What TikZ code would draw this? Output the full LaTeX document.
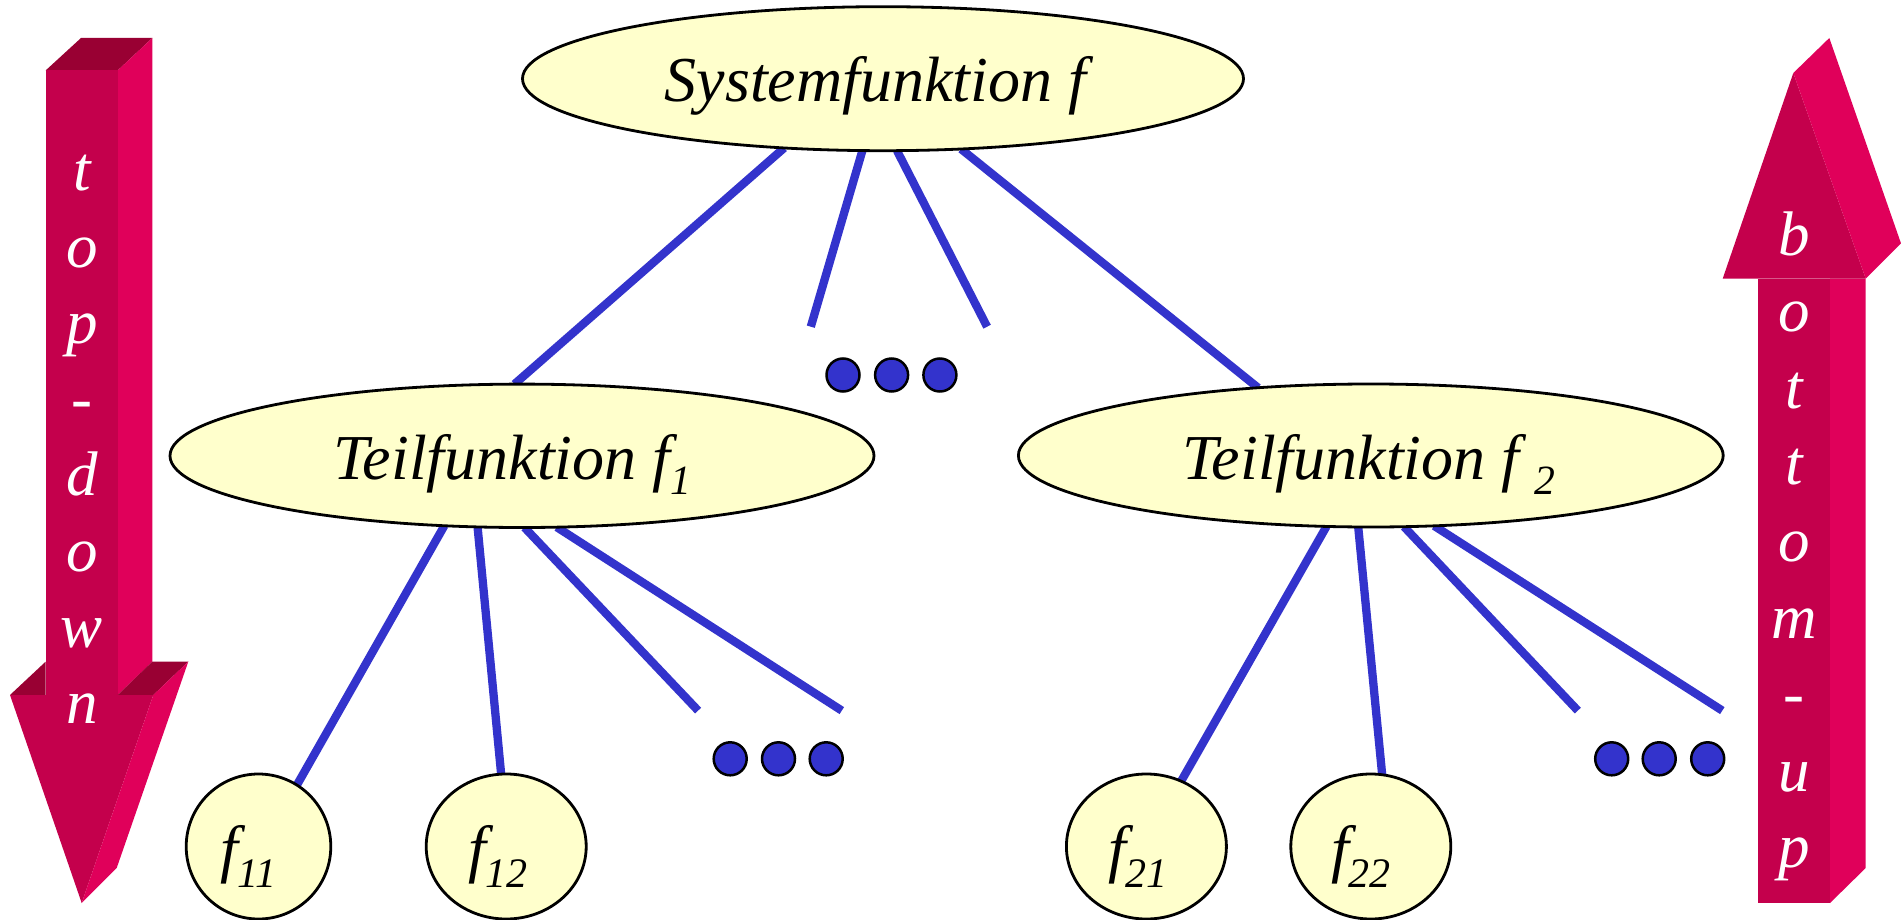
\documentclass[tikz,border=0pt]{standalone}
\usepackage{fontspec}
\setmainfont{Liberation Serif}
\usetikzlibrary{shapes.geometric}
\definecolor{lineblue}{RGB}{51,51,204}
\definecolor{bubfill}{RGB}{255,255,204}
\definecolor{arrfront}{RGB}{196,0,76}
\definecolor{arrside}{RGB}{224,0,90}
\definecolor{arrtop}{RGB}{153,0,51}
\pgfdeclarelayer{back}
\pgfdeclarelayer{bg}
\pgfsetlayers{back,bg,main}
\newcommand{\subA}[1]{\raisebox{-15pt}{\fontsize{41.6}{42}\selectfont #1}}
\newcommand{\subB}[1]{\raisebox{-17pt}{\fontsize{42}{42}\selectfont #1}}
\begin{document}
\begin{tikzpicture}[x=1pt,y=-1pt,line join=miter,
  bub/.style={ellipse, draw=black, line width=2.8pt, fill=bubfill, inner sep=0pt, outer sep=0pt},
  conn/.style={draw=lineblue, line width=8.3pt},
  dotn/.style={circle, draw=black, line width=2.5pt, fill=lineblue, minimum size=33pt, inner sep=0pt},
  lbl/.style={inner sep=0pt, anchor=base west, font=\fontsize{64}{76}\selectfont\itshape},
  arrtxt/.style={inner sep=0pt, text=white, anchor=base, font=\fontsize{63}{76}\selectfont\itshape}]
\useasboundingbox (0,0) rectangle (1901,920);
\begin{pgfonlayer}{back}
\fill[white] (0,0) rectangle (1901,920);
\end{pgfonlayer}

% ---- left 3D arrow (top-down)
\fill[arrtop] (45.7,70.4) -- (81,38) -- (152.3,38) -- (117.7,70.4) -- cycle;
\fill[arrside] (117.7,70.4) -- (152.3,38) -- (152.3,661.6) -- (117.7,695) -- cycle;
\fill[arrfront] (45.7,70.4) -- (117.7,70.4) -- (117.7,695) -- (45.7,695) -- cycle;
\fill[arrtop] (10,695) -- (45.7,661.6) -- (45.7,695) -- cycle;
\fill[arrtop] (117.7,695) -- (152.3,661.6) -- (188.3,661.6) -- (153.3,695) -- cycle;
\fill[arrfront] (10,695) -- (153.3,695) -- (81.7,903) -- cycle;
\fill[arrside] (153.3,695) -- (188.3,661.6) -- (116.7,868) -- (81.7,903) -- cycle;

% ---- right 3D arrow (bottom-up)
\fill[arrfront] (1758.3,278.6) -- (1830,278.6) -- (1830,903) -- (1758.3,903) -- cycle;
\fill[arrside] (1830,278.6) -- (1865.7,278.6) -- (1865.7,868) -- (1830,903) -- cycle;
\fill[arrfront] (1722.7,278.6) -- (1793.3,73) -- (1865.7,278.6) -- cycle;
\fill[arrside] (1793.3,73) -- (1829.3,38) -- (1901,243.4) -- (1865.7,278.6) -- cycle;

\foreach \ch [count=\i from 0] in {t,o,p,-,d,o,w,n}
  \node[arrtxt] (L\i) at (82,{191+76*\i}) {\ch};
\foreach \ch [count=\i from 0] in {b,o,t,t,o,m,-,u,p}
  \node[arrtxt] (R\i) at (1794,{255+76.6*\i}) {\ch};

% ---- tree nodes
\node[bub, minimum width=721pt, minimum height=144pt] (sys) at (883,78.7) {};
\node[bub, minimum width=704pt, minimum height=143.4pt] (t1) at (522,455.8) {};
\node[bub, minimum width=704.8pt, minimum height=143pt] (t2) at (1370.8,455.5) {};
\node[bub, minimum width=144.6pt, minimum height=145pt] (f11) at (258.5,846.5) {};
\node[bub, minimum width=160pt, minimum height=145pt] (f12) at (506.2,846.5) {};
\node[bub, minimum width=160pt, minimum height=145pt] (f21) at (1146.4,846.5) {};
\node[bub, minimum width=160pt, minimum height=145pt] (f22) at (1370.8,846.5) {};

\node[lbl] (sysT) at (664.5,101.5) {Systemfunktion f};
\node[lbl] (t1T) at (333,479) {Teilfunktion f\subA{1}};
\node[lbl] (t2T) at (1182,479) {Teilfunktion f\hspace{15pt}\subA{2}};
\node[lbl] (f11T) at (220,870) {f\subB{11}};
\node[lbl] (f12T) at (468,870) {f\subB{12}};
\node[lbl] (f21T) at (1108,870) {f\subB{21}};
\node[lbl] (f22T) at (1331,870) {f\subB{22}};

% ---- dots
\node[dotn] (da1) at (843,375) {};
\node[dotn] (da2) at (891.6,375) {};
\node[dotn] (da3) at (939.9,375) {};
\node[dotn] (db1) at (730.2,758.8) {};
\node[dotn] (db2) at (778.5,758.8) {};
\node[dotn] (db3) at (826.2,758.8) {};
\node[dotn] (dc1) at (1611.7,758.8) {};
\node[dotn] (dc2) at (1659.2,758.8) {};
\node[dotn] (dc3) at (1707.7,758.8) {};

% ---- free ends of open branches
\coordinate (ea) at (810.8,326.7);
\coordinate (eb) at (987.1,326.7);
\coordinate (ec) at (698.1,710.6);
\coordinate (ed) at (841.8,710.6);
\coordinate (ee) at (1577.8,710.6);
\coordinate (ef) at (1722.3,710.6);

% ---- connectors
\begin{pgfonlayer}{bg}
\draw[conn] (sys.215.7) -- (t1.96.3);
\draw[conn] (sys.254.5) -- (ea);
\draw[conn] (sys.281.8) -- (eb);
\draw[conn] (sys.318.8) -- (t2.149.7);
\draw[conn] (t1.222.7) -- (f11.58.5);
\draw[conn] (t1.238.8) -- (f12.94.8);
\draw[conn] (t1.272.4) -- (ec);
\draw[conn] (t1.296) -- (ed);
\draw[conn] (t2.238.1) -- (f21.62.8);
\draw[conn] (t2.260.5) -- (f22.81.5);
\draw[conn] (t2.295.1) -- (ee);
\draw[conn] (t2.312.1) -- (ef);
\end{pgfonlayer}
\end{tikzpicture}
\end{document}
